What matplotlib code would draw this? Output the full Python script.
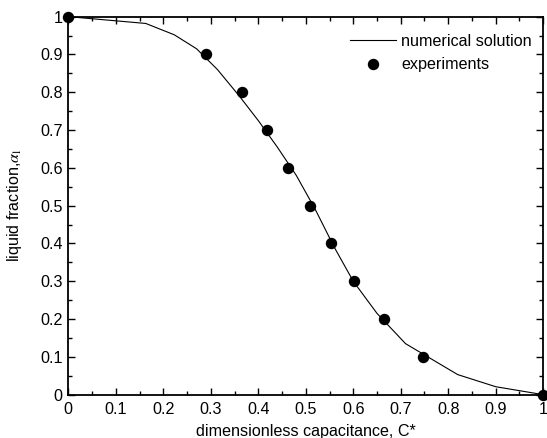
import matplotlib
matplotlib.use("Agg")
import matplotlib.pyplot as plt
from matplotlib.ticker import MultipleLocator, FuncFormatter

plt.rcParams['font.family'] = ['Liberation Sans', 'DejaVu Sans']
plt.rcParams['mathtext.fontset'] = 'stix'

# numerical solution (polyline)
num_x = [0, 0.163, 0.223, 0.27, 0.314, 0.36, 0.40, 0.44, 0.48, 0.52, 0.56, 0.60, 0.65, 0.71, 0.82, 0.90, 1.0]
num_y = [1.0, 0.982, 0.952, 0.915, 0.86, 0.79, 0.725, 0.655, 0.58, 0.49, 0.39, 0.30, 0.215, 0.135, 0.053, 0.021, 0.0]

# experiments
exp_x = [0, 0.289, 0.365, 0.418, 0.463, 0.508, 0.553, 0.601, 0.664, 0.747, 1.0]
exp_y = [1.0, 0.9, 0.8, 0.7, 0.6, 0.5, 0.4, 0.3, 0.2, 0.1, 0.0]

fs = 11.6

fig = plt.figure(figsize=(5.47, 4.38), dpi=100)
ax = fig.add_axes([0.125, 0.099, 0.868, 0.863])

ax.plot(num_x, num_y, color='black', lw=0.8, label='numerical solution', clip_on=False)
ax.plot(exp_x, exp_y, 'o', color='black', ms=7.2, label='experiments', clip_on=False, zorder=5)

ax.set_xlim(0, 1)
ax.set_ylim(0, 1)

fmt = FuncFormatter(lambda v, p: '%g' % round(v, 2))
for axis in (ax.xaxis, ax.yaxis):
    axis.set_major_locator(MultipleLocator(0.1))
    axis.set_minor_locator(MultipleLocator(0.05))
    axis.set_major_formatter(fmt)

ax.tick_params(which='both', direction='in', top=True, right=True, labelsize=fs, width=1.0)
ax.tick_params(which='major', length=5)
ax.tick_params(axis='x', which='major', pad=5)
ax.tick_params(axis='y', which='major', pad=4)
ax.tick_params(which='minor', length=3)
for s in ax.spines.values():
    s.set_linewidth(1.3)

ax.set_xlabel('dimensionless capacitance, C*', fontsize=fs, labelpad=5)
ax.set_ylabel(r'liquid fraction,$\alpha_{\mathrm{l}}$', fontsize=fs, labelpad=12)

ax.legend(loc='upper right', bbox_to_anchor=(1.0, 0.985), frameon=False, fontsize=fs,
          handlelength=2.9, handletextpad=0.3, borderaxespad=0.3, labelspacing=0.55)

fig.savefig('out.png', dpi=100)
